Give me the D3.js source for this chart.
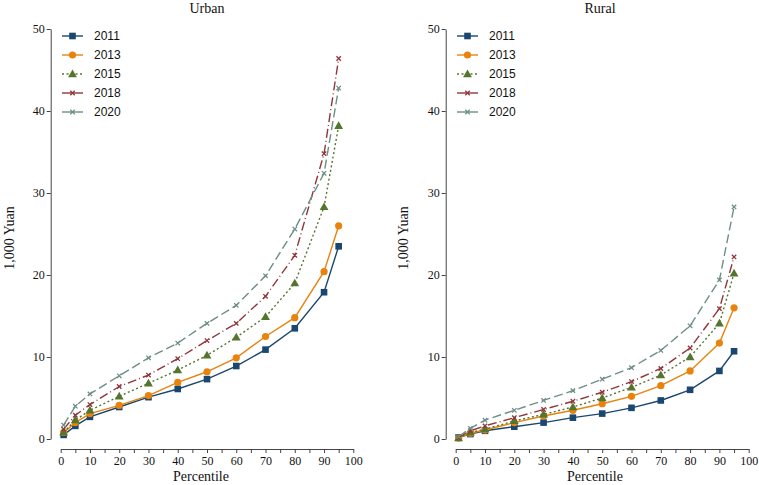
<!DOCTYPE html>
<html><head><meta charset="utf-8">
<script src="https://cdn.jsdelivr.net/npm/d3@7"></script>
<style>body{margin:0;background:#fff}svg{display:block}</style>
</head><body>
<svg id="c" width="759" height="485"></svg>
<script>
const percentiles = [1,5,10,20,30,40,50,60,70,80,90,95];
const years = ["2011","2013","2015","2018","2020"];
const urban2011 = [0.5,1.6,2.7,3.9,5.1,6.1,7.3,8.9,10.9,13.5,17.9,23.5];
const urban2013 = [0.8,2.0,3.1,4.1,5.3,6.9,8.2,9.9,12.5,14.8,20.4,26.0];
const urban2015 = [0.8,2.3,3.5,5.2,6.8,8.4,10.2,12.4,14.9,19.0,28.3,38.2];
const urban2018 = [1.2,2.9,4.2,6.4,7.8,9.8,12.0,14.1,17.4,22.4,34.8,46.4];
const urban2020 = [1.7,4.0,5.5,7.7,9.9,11.7,14.1,16.3,19.9,25.6,32.4,42.8];
const rural2011 = [0.2,0.6,1.0,1.5,2.0,2.6,3.1,3.8,4.7,6.0,8.3,10.7];
const rural2013 = [0.1,0.7,1.1,2.0,2.8,3.5,4.3,5.2,6.5,8.3,11.7,16.0];
const rural2015 = [0.1,0.8,1.2,2.2,3.0,3.9,5.0,6.3,7.8,10.0,14.1,20.2];
const rural2018 = [0.2,1.0,1.6,2.6,3.6,4.6,5.7,7.0,8.6,11.1,15.9,22.2];
const rural2020 = [0.3,1.3,2.3,3.5,4.7,5.9,7.3,8.7,10.8,13.8,19.4,28.3];
const yTicks = [0,10,20,30,40,50];
const xTicks = [0,10,20,30,40,50,60,70,80,90,100];
const panelTitles = ["Urban","Rural"];
const yLabel = "1,000 Yuan";
const xLabel = "Percentile";

const styles = [
  {color:"#1a476f", dash:null, marker:"square"},
  {color:"#e8830e", dash:null, marker:"circle"},
  {color:"#55752f", dash:"2,2.5", marker:"triangle"},
  {color:"#90353b", dash:"9,3,1,3", marker:"x"},
  {color:"#6e8e84", dash:"9,4", marker:"x"}
];

const svg = d3.select("#c");
const panels = [
  {title:panelTitles[0], data:[urban2011,urban2013,urban2015,urban2018,urban2020], x0:60.7, x1:353.3, yAxisX:50.7, titleX:207, ylabX:9, xlabX:201, legX:62},
  {title:panelTitles[1], data:[rural2011,rural2013,rural2015,rural2018,rural2020], x0:455.7, x1:748.7, yAxisX:445.7, titleX:600, ylabX:403, xlabX:595, legX:457}
];

function drawMarker(g, type, x, y, color){
  if(type==="square"){
    g.append("rect").attr("x",x-3.3).attr("y",y-3.3).attr("width",6.6).attr("height",6.6).attr("fill",color);
  } else if(type==="circle"){
    g.append("circle").attr("cx",x).attr("cy",y).attr("r",3.6).attr("fill",color);
  } else if(type==="triangle"){
    g.append("path").attr("d",d3.symbol(d3.symbolTriangle,34)()).attr("transform",`translate(${x},${y+0.6})`).attr("fill",color);
  } else {
    const s=2.2;
    g.append("path").attr("d",`M${x-s},${y-s}L${x+s},${y+s}M${x-s},${y+s}L${x+s},${y-s}`).attr("stroke",color).attr("stroke-width",1.3).attr("fill","none");
  }
}

panels.forEach(p=>{
  const x = d3.scaleLinear().domain([0,100]).range([p.x0,p.x1]);
  const y = d3.scaleLinear().domain([0,50]).range([439,29]);
  const g = svg.append("g");

  // y axis
  const ya = g.append("g").attr("transform",`translate(${p.yAxisX},0)`)
    .call(d3.axisLeft(y).tickValues(yTicks).tickSize(4).tickPadding(2).tickSizeOuter(0));
  ya.select(".domain").attr("stroke","#444");
  ya.selectAll(".tick line").attr("stroke","#444");
  ya.selectAll("text").attr("font-family","Liberation Serif, Times New Roman, serif").attr("font-size",12).attr("fill","#111");

  // x axis
  const xa = g.append("g").attr("transform",`translate(0,449)`)
    .call(d3.axisBottom(x).tickValues(d3.range(0,101,5)).tickSize(4).tickPadding(3).tickSizeOuter(0)
      .tickFormat(d=> xTicks.includes(d) ? d : ""));
  xa.select(".domain").attr("stroke","#444");
  xa.selectAll(".tick line").attr("stroke","#444");
  xa.selectAll("text").attr("font-family","Liberation Serif, Times New Roman, serif").attr("font-size",12).attr("fill","#111");

  // title
  g.append("text").attr("x",p.titleX).attr("y",13).attr("text-anchor","middle")
    .attr("font-family","Liberation Serif, Times New Roman, serif").attr("font-size",14).attr("fill","#111").text(p.title);
  // y label
  g.append("text").attr("transform",`translate(${p.ylabX + 5},238) rotate(-90)`).attr("text-anchor","middle")
    .attr("font-family","Liberation Serif, Times New Roman, serif").attr("font-size",14).attr("fill","#111").text(yLabel);
  // x label
  g.append("text").attr("x",p.xlabX).attr("y",481).attr("text-anchor","middle")
    .attr("font-family","Liberation Serif, Times New Roman, serif").attr("font-size",14).attr("fill","#111").text(xLabel);

  const line = d3.line().x(d=>x(d[0])).y(d=>y(d[1]));
  p.data.forEach((vals,i)=>{
    const st = styles[i];
    const pts = percentiles.map((pc,k)=>[pc,vals[k]]);
    g.append("path").attr("d",line(pts)).attr("fill","none").attr("stroke",st.color)
      .attr("stroke-width",1.4).attr("stroke-dasharray",st.dash);
    const mg = g.append("g");
    pts.forEach(d=>drawMarker(mg, st.marker, x(d[0]), y(d[1]), st.color));
  });

  // legend
  const lg = g.append("g");
  years.forEach((yr,i)=>{
    const st = styles[i];
    const ly = 36 + i*19;
    lg.append("line").attr("x1",p.legX).attr("x2",p.legX+21).attr("y1",ly).attr("y2",ly)
      .attr("stroke",st.color).attr("stroke-width",1.4).attr("stroke-dasharray",st.dash ? (i===2?"2,2.5":"21") : null);
    drawMarker(lg, st.marker, p.legX+10.5, ly, st.color);
    lg.append("text").attr("x",p.legX+32).attr("y",ly+4.2)
      .attr("font-family","Liberation Sans, Arial, sans-serif").attr("font-size",12).attr("fill","#111").text(yr);
  });
});
</script>
</body></html>
